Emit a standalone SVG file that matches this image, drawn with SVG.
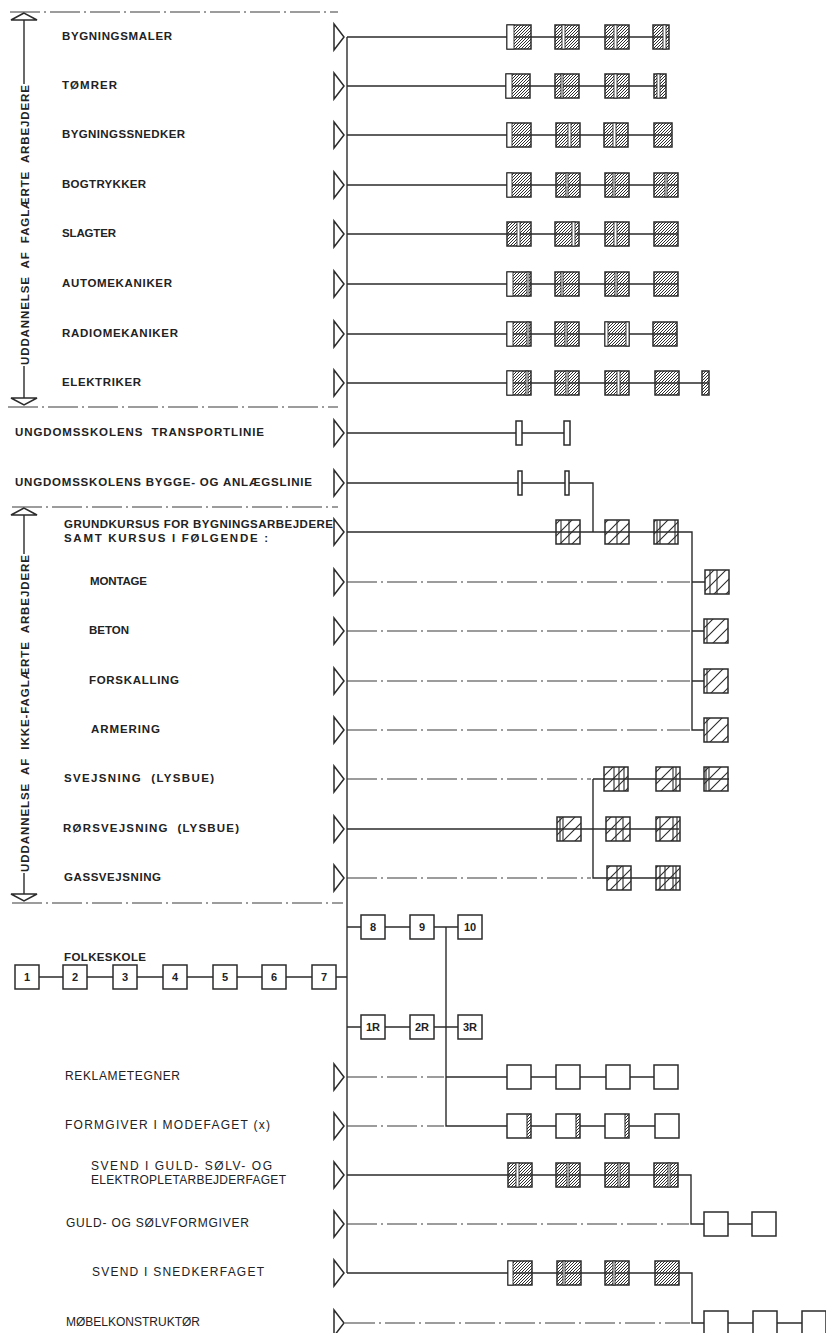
<svg xmlns="http://www.w3.org/2000/svg" xmlns:xlink="http://www.w3.org/1999/xlink" width="826" height="1333" viewBox="0 0 826 1333">
<style>
.ln{stroke:#2b2b2b;stroke-width:1.4;fill:none}
.dd{stroke:#3a3a3a;stroke-width:1.1;stroke-dasharray:30 4 2 4;fill:none}
.bx{stroke:#2b2b2b;stroke-width:1.5}
.bd{fill:url(#hd)}
.bs{fill:url(#hs)}
.bw{fill:#fff}
.st{fill:#fff;stroke:#2b2b2b;stroke-width:0.9}
.il{stroke:#2b2b2b;stroke-width:1.1}
.tri{fill:#fff;stroke:#2b2b2b;stroke-width:1.5}
.lb{font-family:"Liberation Sans",Arial,sans-serif;font-size:11.5px;font-weight:700;fill:#222;white-space:pre}
.ll{font-family:"Liberation Sans",Arial,sans-serif;font-size:12px;font-weight:400;fill:#222;white-space:pre}
.num{font-family:"Liberation Sans",Arial,sans-serif;font-size:11px;font-weight:700;fill:#222;text-anchor:middle}
</style>
<defs>
<pattern id="hd" width="3" height="3" patternUnits="userSpaceOnUse"><path d="M-0.75,0.75 L0.75,-0.75 M0,3 L3,0 M2.25,3.75 L3.75,2.25" stroke="#2e2e2e" stroke-width="1"/></pattern>
<pattern id="hs" width="12" height="12" patternUnits="userSpaceOnUse"><path d="M-3,3 L3,-3 M0,12 L12,0 M9,15 L15,9" stroke="#2b2b2b" stroke-width="1.1"/></pattern>
<polygon id="tri" class="tri" points="0,-13 10,0 0,13"/>
</defs>
<rect width="826" height="1333" fill="#fff"/>

<g id="separators">
<path class="dd" d="M10,12 H338 M8,407 H338 M12,507 H338 M12,903 H343"/>
</g>

<g id="dim-faglaerte">
<path class="ln" d="M24,20 V84 M24,366 V398"/>
<polygon class="tri" points="24,13 11,20 37,20"/>
<polygon class="tri" points="11,398 37,398 24,405"/>
<text class="lb" transform="translate(28.5,225) rotate(-90)" text-anchor="middle" textLength="280" lengthAdjust="spacing">UDDANNELSE  AF  FAGLÆRTE  ARBEJDERE</text>
</g>
<g id="dim-ikke-faglaerte">
<path class="ln" d="M24,515 V554 M24,873 V894"/>
<polygon class="tri" points="24,508 11,515 37,515"/>
<polygon class="tri" points="11,894 37,894 24,901"/>
<text class="lb" transform="translate(28.5,713.5) rotate(-90)" text-anchor="middle" textLength="317" lengthAdjust="spacing">UDDANNELSE  AF  IKKE-FAGLÆRTE  ARBEJDERE</text>
</g>

<g id="connectors">
<path class="ln" d="M347,37 V1273"/>
<path class="ln" d="M347,37 H669 M347,86 H666 M347,135 H672 M347,185 H678 M347,234 H678 M347,284 H678 M347,334 H677 M347,383 H709 M347,433 H570 M347,483 H593 V532 M347,532 H692 V730 H704 M692,582 H705 M692,631 H704 M692,681 H704 M593,779 H729 M593,779 V878 H680 M347,829 H679 M27,977 H347 M347,927 H470 M347,1027 H470 M446,927 V1126 H679 M446,1077 H678 M347,1175 H691 V1224 H776 M347,1273 H692 V1323 H826"/>
<path class="dd" d="M347,582 H690 M347,631 H690 M347,681 H690 M347,730 H690 M347,779 H591 M347,878 H591 M347,1077 H444 M347,1126 H444 M347,1224 H689 M345,1323 H690"/>
<use href="#tri" x="334" y="37"/><use href="#tri" x="334" y="86"/><use href="#tri" x="334" y="135"/><use href="#tri" x="334" y="185"/><use href="#tri" x="334" y="234"/><use href="#tri" x="334" y="284"/><use href="#tri" x="334" y="334"/><use href="#tri" x="334" y="383"/><use href="#tri" x="334" y="433"/><use href="#tri" x="334" y="483"/><use href="#tri" x="334" y="532"/><use href="#tri" x="334" y="582"/><use href="#tri" x="334" y="631"/><use href="#tri" x="334" y="681"/><use href="#tri" x="334" y="730"/><use href="#tri" x="334" y="779"/><use href="#tri" x="334" y="829"/><use href="#tri" x="334" y="878"/><use href="#tri" x="334" y="1077"/><use href="#tri" x="334" y="1126"/><use href="#tri" x="334" y="1175"/><use href="#tri" x="334" y="1224"/><use href="#tri" x="334" y="1273"/><use href="#tri" x="334" y="1323"/>
</g>

<g id="labels">
<text class="lb" x="62" y="40" textLength="110" lengthAdjust="spacing">BYGNINGSMALER</text>
<text class="lb" x="62" y="89" textLength="55" lengthAdjust="spacing">TØMRER</text>
<text class="lb" x="62" y="138" textLength="123" lengthAdjust="spacing">BYGNINGSSNEDKER</text>
<text class="lb" x="62" y="188" textLength="84" lengthAdjust="spacing">BOGTRYKKER</text>
<text class="lb" x="62" y="237" textLength="54" lengthAdjust="spacing">SLAGTER</text>
<text class="lb" x="62" y="287" textLength="110" lengthAdjust="spacing">AUTOMEKANIKER</text>
<text class="lb" x="62" y="337" textLength="116" lengthAdjust="spacing">RADIOMEKANIKER</text>
<text class="lb" x="62" y="386" textLength="79" lengthAdjust="spacing">ELEKTRIKER</text>
<text class="lb" x="15" y="436" textLength="249" lengthAdjust="spacing">UNGDOMSSKOLENS  TRANSPORTLINIE</text>
<text class="lb" x="15" y="486" textLength="297" lengthAdjust="spacing">UNGDOMSSKOLENS BYGGE- OG ANLÆGSLINIE</text>
<text class="lb" x="64" y="528" textLength="269" lengthAdjust="spacing">GRUNDKURSUS FOR BYGNINGSARBEJDERE</text>
<text class="lb" x="64" y="542" textLength="204" lengthAdjust="spacing">SAMT KURSUS I FØLGENDE :</text>
<text class="lb" x="90" y="585" textLength="57" lengthAdjust="spacing">MONTAGE</text>
<text class="lb" x="89" y="634" textLength="40" lengthAdjust="spacing">BETON</text>
<text class="lb" x="89" y="684" textLength="90" lengthAdjust="spacing">FORSKALLING</text>
<text class="lb" x="91" y="733" textLength="69" lengthAdjust="spacing">ARMERING</text>
<text class="lb" x="64" y="782" textLength="150" lengthAdjust="spacing">SVEJSNING  (LYSBUE)</text>
<text class="lb" x="63" y="832" textLength="176" lengthAdjust="spacing">RØRSVEJSNING  (LYSBUE)</text>
<text class="lb" x="64" y="881" textLength="97" lengthAdjust="spacing">GASSVEJSNING</text>
<text class="lb" x="64" y="960.5" textLength="82" lengthAdjust="spacing">FOLKESKOLE</text>
<text class="ll" x="65" y="1080" textLength="115" lengthAdjust="spacing">REKLAMETEGNER</text>
<text class="ll" x="65" y="1129" textLength="205" lengthAdjust="spacing">FORMGIVER I MODEFAGET (x)</text>
<text class="ll" x="91" y="1170" textLength="181" lengthAdjust="spacing">SVEND I GULD- SØLV- OG</text>
<text class="ll" x="91" y="1184" textLength="195" lengthAdjust="spacing">ELEKTROPLETARBEJDERFAGET</text>
<text class="ll" x="66" y="1227" textLength="183" lengthAdjust="spacing">GULD- OG SØLVFORMGIVER</text>
<text class="ll" x="92" y="1276" textLength="172" lengthAdjust="spacing">SVEND I SNEDKERFAGET</text>
<text class="ll" x="66" y="1326" textLength="134" lengthAdjust="spacing">MØBELKONSTRUKTØR</text>
</g>

<!-- Row 1 -->
<g id="r1b1"><rect class="bx bd" x="507" y="25" width="24" height="24"/><rect class="st" x="507" y="25" width="7" height="24"/></g>
<g id="r1b2"><rect class="bx bd" x="555" y="25" width="24" height="24"/><rect class="st" x="562" y="25" width="3" height="24"/></g>
<g id="r1b3"><rect class="bx bd" x="605" y="25" width="24" height="24"/><rect class="st" x="614" y="25" width="3" height="24"/></g>
<g id="r1b4"><rect class="bx bd" x="653" y="25" width="16" height="24"/><rect class="st" x="663" y="25" width="3" height="24"/></g>
<!-- Row 2 -->
<g id="r2b1"><rect class="bx bd" x="506" y="74" width="24" height="24"/><rect class="st" x="506" y="74" width="6" height="24"/></g>
<g id="r2b2"><rect class="bx bd" x="555" y="74" width="24" height="24"/><rect class="st" x="561" y="74" width="2" height="24"/></g>
<g id="r2b3"><rect class="bx bd" x="605" y="74" width="24" height="24"/><rect class="st" x="614" y="74" width="3" height="24"/></g>
<g id="r2b4"><rect class="bx bd" x="654" y="74" width="12" height="24"/><rect class="st" x="657" y="74" width="3" height="24"/></g>
<!-- Row 3 -->
<g id="r3b1"><rect class="bx bd" x="507" y="123" width="24" height="24"/><rect class="st" x="507" y="123" width="5" height="24"/></g>
<g id="r3b2"><rect class="bx bd" x="556" y="123" width="24" height="24"/><rect class="st" x="568" y="123" width="3" height="24"/></g>
<g id="r3b3"><rect class="bx bd" x="604" y="123" width="24" height="24"/><rect class="st" x="613" y="123" width="3" height="24"/></g>
<g id="r3b4"><rect class="bx bd" x="654" y="123" width="18" height="24"/></g>
<!-- Row 4 -->
<g id="r4b1"><rect class="bx bd" x="507" y="173" width="24" height="24"/><rect class="st" x="507" y="173" width="5" height="24"/></g>
<g id="r4b2"><rect class="bx bd" x="556" y="173" width="24" height="24"/><rect class="st" x="566" y="173" width="2" height="24"/></g>
<g id="r4b3"><rect class="bx bd" x="605" y="173" width="24" height="24"/><rect class="st" x="613" y="173" width="2" height="24"/></g>
<g id="r4b4"><rect class="bx bd" x="654" y="173" width="24" height="24"/><rect class="st" x="665" y="173" width="2" height="24"/></g>
<!-- Row 5 -->
<g id="r5b1"><rect class="bx bd" x="507" y="222" width="24" height="24"/><rect class="st" x="517" y="222" width="3" height="24"/></g>
<g id="r5b2"><rect class="bx bd" x="555" y="222" width="24" height="24"/><rect class="st" x="572" y="222" width="3" height="24"/></g>
<g id="r5b3"><rect class="bx bd" x="605" y="222" width="24" height="24"/><rect class="st" x="614" y="222" width="3" height="24"/></g>
<g id="r5b4"><rect class="bx bd" x="654" y="222" width="24" height="24"/></g>
<!-- Row 6 -->
<g id="r6b1"><rect class="bx bd" x="507" y="272" width="24" height="24"/><rect class="st" x="507" y="272" width="6" height="24"/><rect class="st" x="527" y="272" width="2" height="24"/></g>
<g id="r6b2"><rect class="bx bd" x="555" y="272" width="24" height="24"/><rect class="st" x="561" y="272" width="2" height="24"/></g>
<g id="r6b3"><rect class="bx bd" x="605" y="272" width="24" height="24"/><rect class="st" x="615" y="272" width="2" height="24"/></g>
<g id="r6b4"><rect class="bx bd" x="654" y="272" width="24" height="24"/></g>
<!-- Row 7 -->
<g id="r7b1"><rect class="bx bd" x="507" y="322" width="24" height="24"/><rect class="st" x="507" y="322" width="6" height="24"/><rect class="st" x="527" y="322" width="2" height="24"/></g>
<g id="r7b2"><rect class="bx bd" x="555" y="322" width="24" height="24"/><rect class="st" x="565" y="322" width="2" height="24"/></g>
<g id="r7b3"><rect class="bx bd" x="605" y="322" width="24" height="24"/><rect class="st" x="605" y="322" width="3" height="24"/><rect class="st" x="626" y="322" width="3" height="24"/></g>
<g id="r7b4"><rect class="bx bd" x="653" y="322" width="24" height="24"/></g>
<!-- Row 8 -->
<g id="r8b1"><rect class="bx bd" x="507" y="371" width="24" height="24"/><rect class="st" x="507" y="371" width="6" height="24"/><rect class="st" x="526" y="371" width="2" height="24"/></g>
<g id="r8b2"><rect class="bx bd" x="555" y="371" width="24" height="24"/><rect class="st" x="566" y="371" width="2" height="24"/></g>
<g id="r8b3"><rect class="bx bd" x="605" y="371" width="24" height="24"/><rect class="st" x="617" y="371" width="3" height="24"/></g>
<g id="r8b4"><rect class="bx bd" x="655" y="371" width="24" height="24"/></g>
<g id="r8b5"><rect class="bx bd" x="702" y="371" width="7" height="24"/></g>
<!-- Row 9, 10 -->
<g id="r9b1"><rect class="bx bw" x="516" y="421" width="6" height="24"/></g>
<g id="r9b2"><rect class="bx bw" x="564" y="421" width="6" height="24"/></g>
<g id="r10b1"><rect class="bx bw" x="518" y="471" width="4" height="24"/></g>
<g id="r10b2"><rect class="bx bw" x="565" y="471" width="4" height="24"/></g>
<!-- Row 11 -->
<g id="r11b1"><rect class="bx bs" x="556" y="520" width="24" height="24"/><path class="il" d="M561,520 V544 M569,520 V544"/></g>
<g id="r11b2"><rect class="bx bs" x="605" y="520" width="24" height="24"/><path class="il" d="M617,520 V544"/></g>
<g id="r11b3"><rect class="bx bs" x="654" y="520" width="24" height="24"/><path class="il" d="M657,520 V544 M660,520 V544 M675,520 V544"/></g>
<!-- Rows 12-15 -->
<g id="r12b1"><rect class="bx bs" x="705" y="570" width="24" height="24"/><path class="il" d="M710,570 V594 M717,570 V594"/></g>
<g id="r13b1"><rect class="bx bs" x="704" y="619" width="24" height="24"/><path class="il" d="M707,619 V643"/></g>
<g id="r14b1"><rect class="bx bs" x="704" y="669" width="24" height="24"/><path class="il" d="M707,669 V693"/></g>
<g id="r15b1"><rect class="bx bs" x="704" y="718" width="24" height="24"/><path class="il" d="M707,718 V742"/></g>
<!-- Row 16 -->
<g id="r16b1"><rect class="bx bs" x="604" y="767" width="24" height="24"/><path class="il" d="M614,767 V791 M619,767 V791 M624,767 V791"/></g>
<g id="r16b2"><rect class="bx bs" x="656" y="767" width="24" height="24"/><path class="il" d="M673,767 V791 M676,767 V791"/></g>
<g id="r16b3"><rect class="bx bs" x="704" y="767" width="24" height="24"/><path class="il" d="M706,767 V791 M709,767 V791"/></g>
<!-- Row 17 -->
<g id="r17b0"><rect class="bx bs" x="557" y="817" width="24" height="24"/><path class="il" d="M560,817 V841 M563,817 V841"/></g>
<g id="r17b1"><rect class="bx bs" x="606" y="817" width="24" height="24"/><path class="il" d="M616,817 V841 M623,817 V841"/></g>
<g id="r17b2"><rect class="bx bs" x="656" y="817" width="24" height="24"/><path class="il" d="M660,817 V841 M673,817 V841 M677,817 V841"/></g>
<!-- Row 18 -->
<g id="r18b1"><rect class="bx bs" x="607" y="866" width="24" height="24"/><path class="il" d="M617,866 V890 M623,866 V890"/></g>
<g id="r18b2"><rect class="bx bs" x="656" y="866" width="24" height="24"/><path class="il" d="M660,866 V890 M665,866 V890 M673,866 V890 M676,866 V890"/></g>

<!-- Folkeskole -->
<g id="fk1"><rect class="bx bw" x="15" y="965" width="24" height="24"/><text class="num" x="27" y="981">1</text></g>
<g id="fk2"><rect class="bx bw" x="63" y="965" width="24" height="24"/><text class="num" x="75" y="981">2</text></g>
<g id="fk3"><rect class="bx bw" x="113" y="965" width="24" height="24"/><text class="num" x="125" y="981">3</text></g>
<g id="fk4"><rect class="bx bw" x="163" y="965" width="24" height="24"/><text class="num" x="175" y="981">4</text></g>
<g id="fk5"><rect class="bx bw" x="213" y="965" width="24" height="24"/><text class="num" x="225" y="981">5</text></g>
<g id="fk6"><rect class="bx bw" x="262" y="965" width="24" height="24"/><text class="num" x="274" y="981">6</text></g>
<g id="fk7"><rect class="bx bw" x="312" y="965" width="24" height="24"/><text class="num" x="324" y="981">7</text></g>
<g id="fk8"><rect class="bx bw" x="361" y="915" width="24" height="24"/><text class="num" x="373" y="931">8</text></g>
<g id="fk9"><rect class="bx bw" x="410" y="915" width="24" height="24"/><text class="num" x="422" y="931">9</text></g>
<g id="fk10"><rect class="bx bw" x="458" y="915" width="24" height="24"/><text class="num" x="470" y="931">10</text></g>
<g id="fk1R"><rect class="bx bw" x="361" y="1015" width="24" height="24"/><text class="num" x="373" y="1031">1R</text></g>
<g id="fk2R"><rect class="bx bw" x="410" y="1015" width="24" height="24"/><text class="num" x="422" y="1031">2R</text></g>
<g id="fk3R"><rect class="bx bw" x="458" y="1015" width="24" height="24"/><text class="num" x="470" y="1031">3R</text></g>

<!-- Reklametegner -->
<g id="rekb1"><rect class="bx bw" x="507" y="1065" width="24" height="24"/></g>
<g id="rekb2"><rect class="bx bw" x="556" y="1065" width="24" height="24"/></g>
<g id="rekb3"><rect class="bx bw" x="606" y="1065" width="24" height="24"/></g>
<g id="rekb4"><rect class="bx bw" x="654" y="1065" width="24" height="24"/></g>
<!-- Formgiver -->
<g id="formb1"><rect class="bx bw" x="507" y="1114" width="24" height="24"/><rect class="bd" x="527" y="1114" width="4" height="24"/><path class="il" d="M527,1114 V1138"/></g>
<g id="formb2"><rect class="bx bw" x="556" y="1114" width="24" height="24"/><rect class="bd" x="576" y="1114" width="4" height="24"/><path class="il" d="M576,1114 V1138"/></g>
<g id="formb3"><rect class="bx bw" x="605" y="1114" width="24" height="24"/><rect class="bd" x="625" y="1114" width="4" height="24"/><path class="il" d="M625,1114 V1138"/></g>
<g id="formb4"><rect class="bx bw" x="655" y="1114" width="24" height="24"/></g>
<!-- Svend guld -->
<g id="svgb1"><rect class="bx bd" x="508" y="1163" width="24" height="24"/><rect class="st" x="516" y="1163" width="3" height="24"/></g>
<g id="svgb2"><rect class="bx bd" x="556" y="1163" width="24" height="24"/><rect class="st" x="567" y="1163" width="2" height="24"/></g>
<g id="svgb3"><rect class="bx bd" x="605" y="1163" width="24" height="24"/><rect class="st" x="618" y="1163" width="2" height="24"/></g>
<g id="svgb4"><rect class="bx bd" x="654" y="1163" width="24" height="24"/><rect class="st" x="668" y="1163" width="2" height="24"/></g>
<!-- Guld- og soelvformgiver -->
<g id="gsfb1"><rect class="bx bw" x="704" y="1212" width="24" height="24"/></g>
<g id="gsfb2"><rect class="bx bw" x="752" y="1212" width="24" height="24"/></g>
<!-- Svend snedker -->
<g id="snedb1"><rect class="bx bd" x="508" y="1261" width="24" height="24"/><rect class="st" x="508" y="1261" width="5" height="24"/></g>
<g id="snedb2"><rect class="bx bd" x="557" y="1261" width="24" height="24"/><rect class="st" x="563" y="1261" width="2" height="24"/></g>
<g id="snedb3"><rect class="bx bd" x="605" y="1261" width="24" height="24"/><rect class="st" x="613" y="1261" width="2" height="24"/></g>
<g id="snedb4"><rect class="bx bd" x="655" y="1261" width="24" height="24"/></g>
<!-- Moebelkonstruktoer -->
<g id="mobb1"><rect class="bx bw" x="704" y="1311" width="24" height="24"/></g>
<g id="mobb2"><rect class="bx bw" x="753" y="1311" width="24" height="24"/></g>
<g id="mobb3"><rect class="bx bw" x="802" y="1311" width="24" height="24"/></g>
</svg>
